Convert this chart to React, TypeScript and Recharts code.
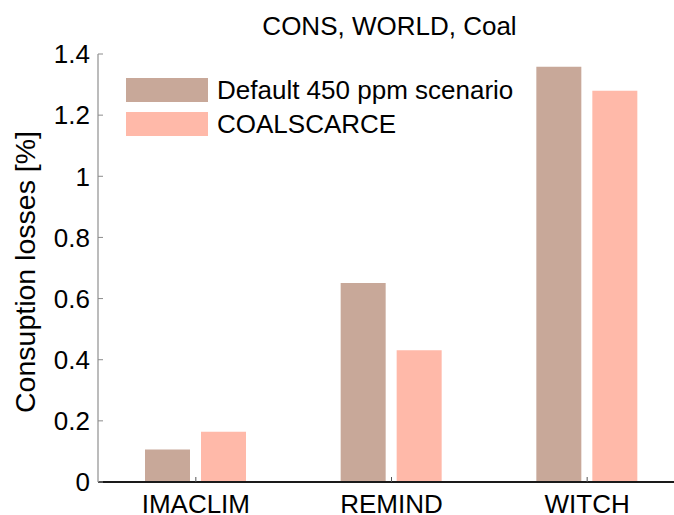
import { BarChart, Bar, XAxis, YAxis, Legend } from 'recharts';

const models = ['IMACLIM', 'REMIND', 'WITCH'];
const defaultScenario = [0.106, 0.651, 1.358];
const coalScarce = [0.164, 0.431, 1.28];
const seriesNames = ['Default 450 ppm scenario', 'COALSCARCE'];
const yTicks = [0, 0.2, 0.4, 0.6, 0.8, 1, 1.2, 1.4];

const data = models.map((model, i) => ({
  model,
  base: defaultScenario[i],
  scarce: coalScarce[i],
}));

const FONT = '"Liberation Sans", Arial, Helvetica, sans-serif';

// keep legend in series order (recharts sorts by name otherwise)
const LegendBox = ({ payload }) => {
  const items = [...(payload || [])].sort(
    (a, b) => seriesNames.indexOf(a.value) - seriesNames.indexOf(b.value)
  );
  return (
    <div style={{ fontFamily: FONT, fontSize: 26, color: '#000' }}>
      {items.map((entry, index) => (
        <div key={index} style={{ display: 'flex', alignItems: 'center', height: 34 }}>
          <span
            style={{
              display: 'inline-block',
              width: 82,
              height: 24,
              background: entry.color,
              marginRight: 9,
            }}
          />
          <span style={{ whiteSpace: 'nowrap' }}>{entry.value}</span>
        </div>
      ))}
    </div>
  );
};

const YLabel = ({ viewBox }) => {
  const cy = viewBox.y + viewBox.height / 2 + 4;
  return (
    <text
      x={25}
      y={cy}
      transform={`rotate(-90, 25, ${cy})`}
      textAnchor="middle"
      dominantBaseline="central"
      fontFamily={FONT}
      fontSize={28.5}
      fill="#000"
    >
      Consuption losses [%]
    </text>
  );
};

const App = () => {
  return (
    <div
      style={{
        position: 'absolute',
        left: 0,
        top: 0,
        width: 674,
        height: 515,
        overflow: 'hidden',
        background: '#fff',
        fontFamily: FONT,
      }}
    >
      <div
        style={{
          position: 'absolute',
          top: 13,
          left: 96,
          width: 587,
          textAlign: 'center',
          fontSize: 26,
          lineHeight: '26px',
          color: '#000',
          zIndex: 2,
        }}
      >
        CONS, WORLD, Coal
      </div>
      <BarChart
        width={700}
        height={515}
        data={data}
        margin={{ top: 54, right: 15, bottom: 0, left: 0 }}
        barSize={45}
        barGap={11}
      >
        <XAxis
          xAxisId="top"
          orientation="top"
          dataKey="model"
          height={0}
          tick={false}
          tickSize={-5}
          axisLine={{ stroke: '#a6a6a6', strokeWidth: 1.5 }}
          tickLine={{ stroke: '#8c8c8c' }}
        />
        <XAxis
          dataKey="model"
          height={33}
          tickSize={-5}
          tickMargin={18}
          interval={0}
          axisLine={{ stroke: '#1a1a1a', strokeWidth: 2 }}
          tickLine={{ stroke: '#555' }}
          tick={{ fontSize: 26, fill: '#000', fontFamily: FONT }}
        />
        <YAxis
          width={98}
          domain={[0, 1.4]}
          ticks={yTicks}
          interval={0}
          tickSize={-5}
          tickMargin={13}
          axisLine={{ stroke: '#a6a6a6', strokeWidth: 1.5 }}
          tickLine={{ stroke: '#8c8c8c' }}
          tick={{ fontSize: 26, fill: '#000', fontFamily: FONT }}
          label={<YLabel />}
        />
        <Legend
          layout="vertical"
          align="center"
          verticalAlign="middle"
          content={<LegendBox />}
          wrapperStyle={{ position: 'absolute', top: 73, left: 126, width: 'auto' }}
        />
        <Bar
          dataKey="base"
          name={seriesNames[0]}
          fill="#c8a899"
          isAnimationActive={false}
        />
        <Bar
          dataKey="scarce"
          name={seriesNames[1]}
          fill="#ffb9a9"
          isAnimationActive={false}
        />
      </BarChart>
    </div>
  );
};

export default App;
